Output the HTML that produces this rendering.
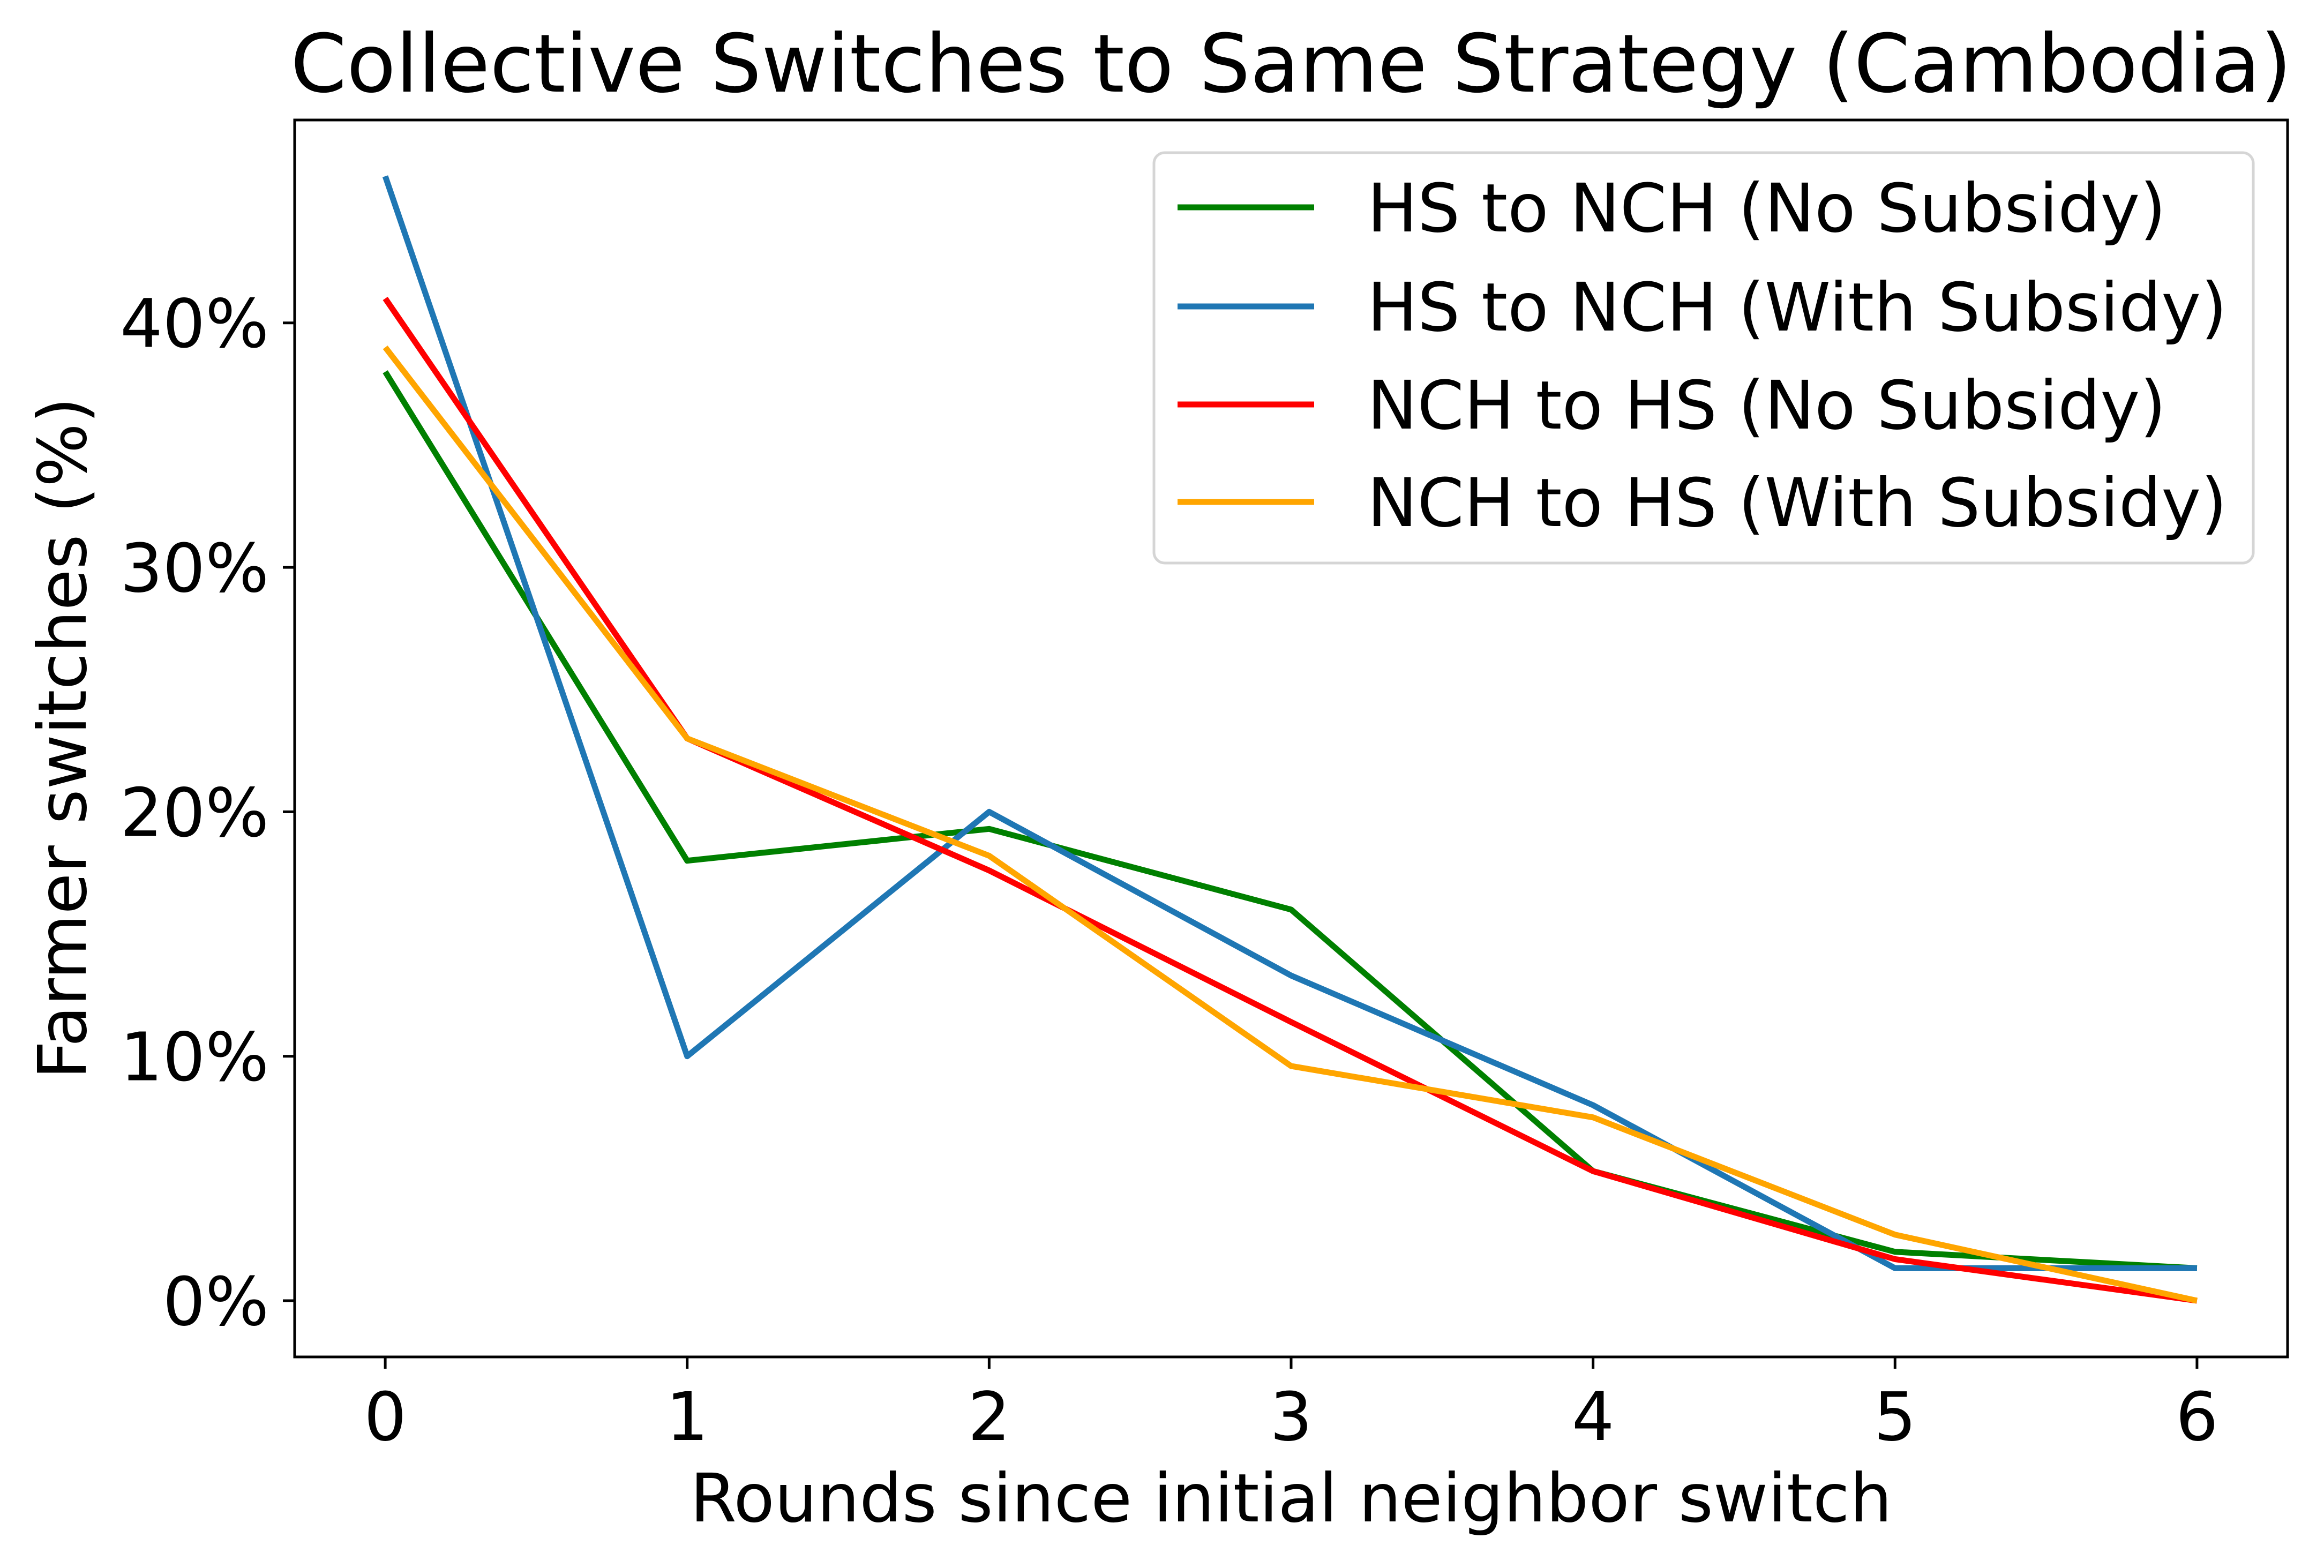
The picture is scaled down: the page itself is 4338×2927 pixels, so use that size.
<!DOCTYPE html>
<html><head><meta charset="utf-8"><style>
html,body{margin:0;padding:0;background:#fff;}
svg{display:block;font-family:"DejaVu Sans","Liberation Sans",sans-serif;}
</style></head><body>
<svg id="chart" width="4338" height="2927" viewBox="0 0 4338 2927" xmlns="http://www.w3.org/2000/svg">
<rect x="0" y="0" width="4338" height="2927" fill="#fff"/>
<text x="2410" y="171" font-size="150" text-anchor="middle">Collective Switches to Same Strategy (Cambodia)</text>
<g id="plot"></g>
<g id="axes"></g>
<text x="2410" y="2840" font-size="125" text-anchor="middle">Rounds since initial neighbor switch</text>
<text x="0" y="0" font-size="125" text-anchor="middle" transform="translate(160,1378) rotate(-90)">Farmer switches (%)</text>
<g id="legend"></g>
</svg>
<script>
const rounds = [0, 1, 2, 3, 4, 5, 6];
const hsToNchNoSubsidy = [38, 18, 19.3, 16, 5.3, 2, 1.33];
const hsToNchWithSubsidy = [46, 10, 20, 13.3, 8, 1.33, 1.33];
const nchToHsNoSubsidy = [41, 23, 17.6, 11.4, 5.3, 1.7, 0];
const nchToHsWithSubsidy = [39, 23, 18.2, 9.6, 7.5, 2.7, 0];
const seriesNames = ["HS to NCH (No Subsidy)", "HS to NCH (With Subsidy)", "NCH to HS (No Subsidy)", "NCH to HS (With Subsidy)"];
const xTicks = [0, 1, 2, 3, 4, 5, 6];
const yTicks = [0, 10, 20, 30, 40];
const yTickLabels = ["0%", "10%", "20%", "30%", "40%"];

const NS = "http://www.w3.org/2000/svg";
const L = 550, R = 4270, T = 224, B = 2533;
const allVals = [].concat(hsToNchNoSubsidy, hsToNchWithSubsidy, nchToHsNoSubsidy, nchToHsWithSubsidy);
const yMinD = Math.min(...allVals), yMaxD = Math.max(...allVals);
const yPad = (yMaxD - yMinD) * 0.05;
const y0 = yMinD - yPad, y1 = yMaxD + yPad;
const xMinD = Math.min(...rounds), xMaxD = Math.max(...rounds);
const xPad = (xMaxD - xMinD) * 0.05;
const x0 = xMinD - xPad, x1 = xMaxD + xPad;
function xs(v){ return L + (v - x0) / (x1 - x0) * (R - L); }
function ys(v){ return B - (v - y0) / (y1 - y0) * (B - T); }
function mk(tag, attrs, parent){ const e = document.createElementNS(NS, tag); for (const k in attrs) e.setAttribute(k, attrs[k]); parent.appendChild(e); return e; }

const colors = ["#008000", "#1f77b4", "#ff0000", "#ffa500"];
const seriesData = [hsToNchNoSubsidy, hsToNchWithSubsidy, nchToHsNoSubsidy, nchToHsWithSubsidy];
const seriesKeys = ["hs-to-nch-no-subsidy", "hs-to-nch-with-subsidy", "nch-to-hs-no-subsidy", "nch-to-hs-with-subsidy"];
const plot = document.getElementById("plot");
seriesData.forEach((arr, i) => {
  const pts = arr.map((v, j) => xs(rounds[j]).toFixed(1) + "," + ys(v).toFixed(1)).join(" ");
  const pl = mk("polyline", {points: pts, fill: "none", stroke: colors[i], "stroke-width": 11, "stroke-linejoin": "round", "stroke-linecap": "butt"}, plot);
  
  
});

const axes = document.getElementById("axes");
const frame = mk("rect", {x: L, y: T, width: R - L, height: B - T, fill: "none", stroke: "#000", "stroke-width": 5}, axes);


xTicks.forEach(t => {
  const x = xs(t);
  const tk = mk("line", {x1: x, y1: B, x2: x, y2: B + 22, stroke: "#000", "stroke-width": 5}, axes);
  
  
  const lb = mk("text", {x: x, y: 2688, "font-size": 125, "text-anchor": "middle"}, axes);
  lb.textContent = String(t);
  
  
});
yTicks.forEach((t, i) => {
  const y = ys(t);
  const tk = mk("line", {x1: L - 22, y1: y, x2: L, y2: y, stroke: "#000", "stroke-width": 5}, axes);
  
  
  const lb = mk("text", {x: 502, y: y + 45, "font-size": 125, "text-anchor": "end"}, axes);
  lb.textContent = yTickLabels[i];
  
  
});

const lg = document.getElementById("legend");
const box = mk("rect", {x: 2154, y: 285, width: 2052, height: 766, rx: 20, ry: 20, fill: "#fff", "fill-opacity": 0.8, stroke: "#d5d5d5", "stroke-width": 5}, lg);


const rowY = [387, 572, 755, 937];
seriesNames.forEach((n, i) => {
  const ln = mk("line", {x1: 2198, y1: rowY[i], x2: 2453, y2: rowY[i], stroke: colors[i], "stroke-width": 11}, lg);
  
  
  const tx = mk("text", {x: 2552, y: rowY[i] + 45, "font-size": 125}, lg);
  tx.textContent = n;
  
  
});
</script>
</body></html>
